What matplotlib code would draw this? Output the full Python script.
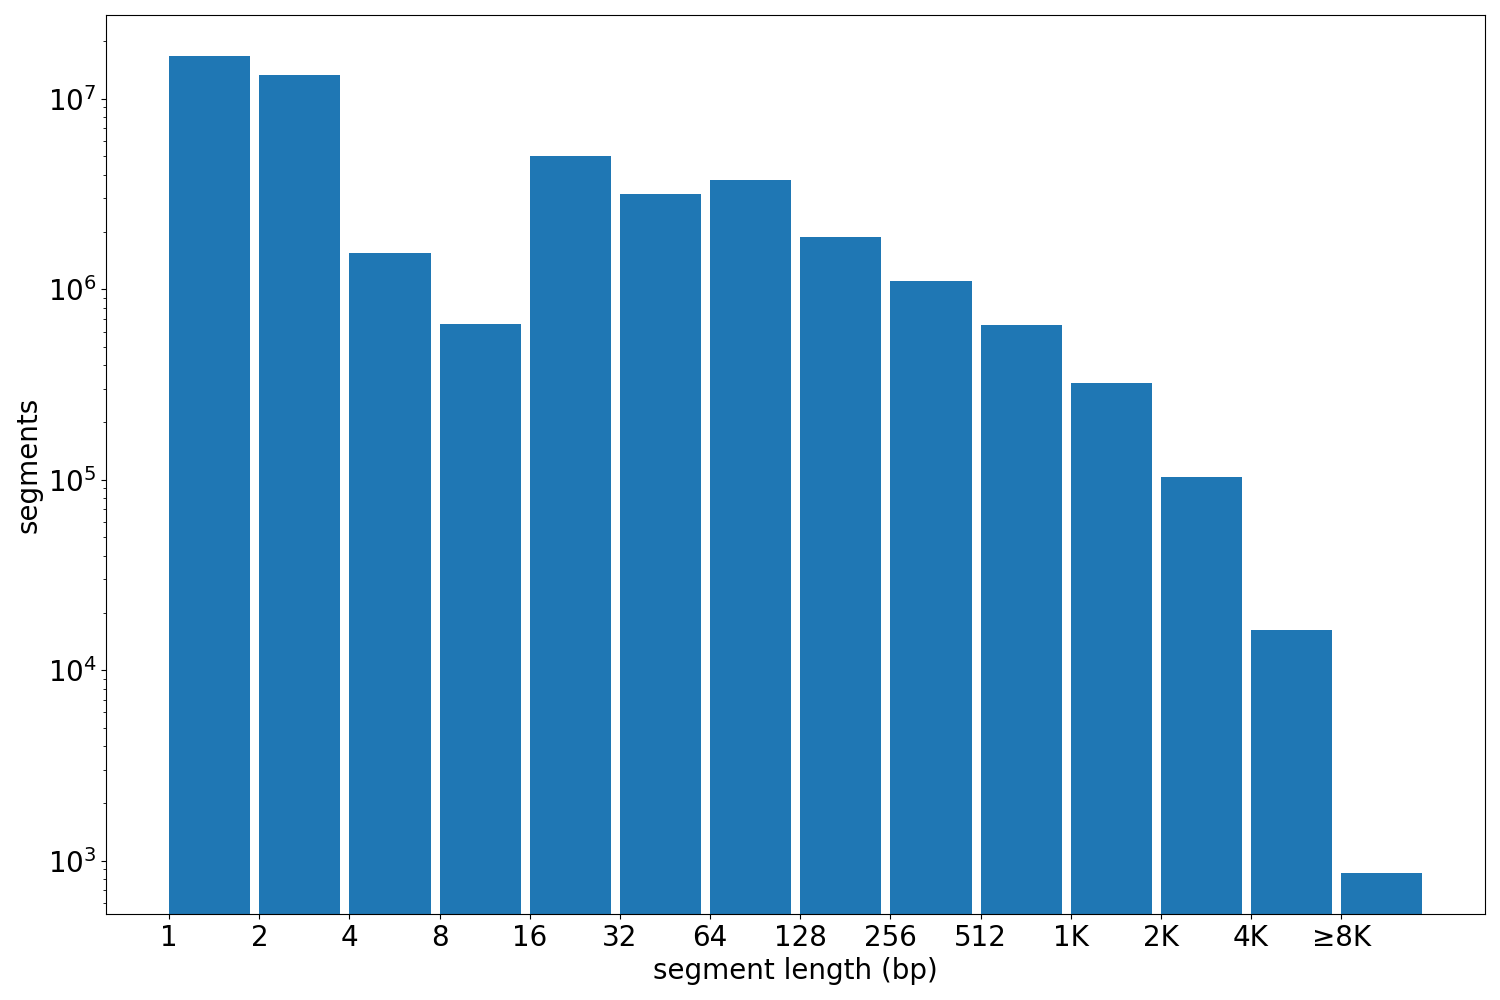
import matplotlib
matplotlib.use("Agg")
import matplotlib.pyplot as plt
import numpy as np

# segment length bins and counts
labels = ['1', '2', '4', '8', '16', '32', '64', '128', '256', '512',
          '1K', '2K', '4K', '≥8K']
counts = [1.68e7, 1.34e7, 1.55e6, 6.55e5, 5.0e6, 3.15e6, 3.73e6, 1.87e6,
          1.1e6, 6.5e5, 3.23e5, 1.03e5, 1.63e4, 860]

plt.rcParams['font.size'] = 20

fig, ax = plt.subplots(figsize=(15, 10), dpi=100)
x = np.arange(len(labels))
ax.bar(x, counts, width=0.9, align='edge', color='#1f77b4')
ax.set_yscale('log')
ax.set_xticks(x)
ax.set_xticklabels(labels)
ax.set_xlabel('segment length (bp)')
ax.set_ylabel('segments')

fig.subplots_adjust(left=0.071, right=0.99, top=0.985, bottom=0.086)
fig.savefig('out.png', dpi=100)
